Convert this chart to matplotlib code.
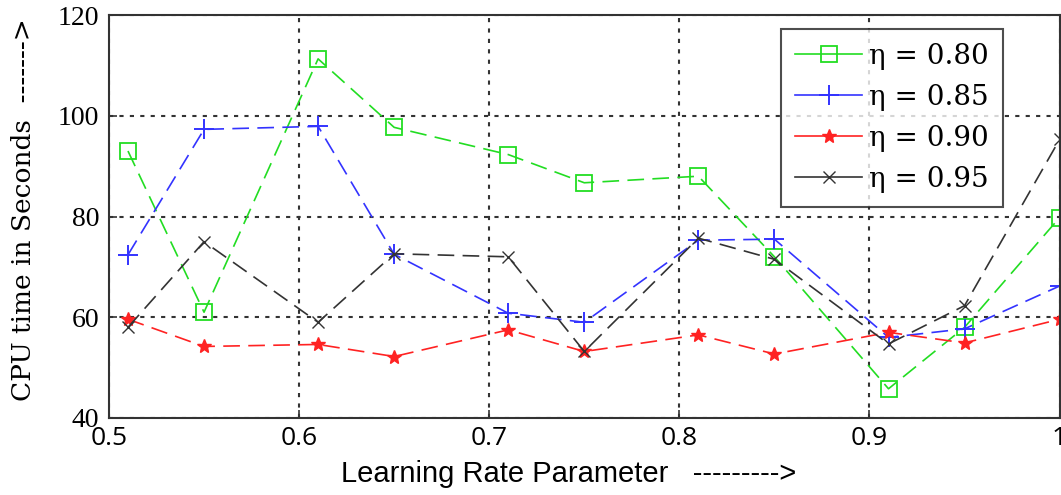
import matplotlib
matplotlib.use('Agg')
import matplotlib.pyplot as plt
from matplotlib.lines import Line2D

# learning rate parameter (x) and CPU time per eta setting
learning_rate = [0.51, 0.55, 0.61, 0.65, 0.71, 0.75, 0.81, 0.85, 0.91, 0.95, 1.0]
cpu_eta_080 = [93.0, 61.0, 111.3, 97.7, 92.3, 86.7, 88.0, 72.0, 45.8, 58.0, 79.8]
cpu_eta_085 = [72.4, 97.3, 97.9, 72.5, 60.8, 59.0, 75.3, 75.5, 56.0, 57.7, 66.2]
cpu_eta_090 = [59.6, 54.2, 54.6, 52.2, 57.5, 53.2, 56.5, 52.7, 57.0, 54.9, 59.6]
cpu_eta_095 = [58.0, 75.0, 59.0, 72.6, 72.0, 53.2, 75.7, 71.5, 54.7, 62.3, 95.3]
series_labels = ['η = 0.80', 'η = 0.85', 'η = 0.90', 'η = 0.95']
x_ticks = [0.5, 0.6, 0.7, 0.8, 0.9, 1.0]
x_ticklabels = ['0.5', '0.6', '0.7', '0.8', '0.9', '1']
y_ticks = [40, 60, 80, 100, 120]

SERIF = ['Liberation Serif', 'DejaVu Serif']
WIDE_SERIF = ['DejaVu Serif']
SANS = ['Open Sans', 'Liberation Sans', 'DejaVu Sans']
ARIAL = ['Liberation Sans', 'DejaVu Sans']

styles = [
    dict(color='#22dd22', marker='s', markersize=11, markerfacecolor='none', markeredgewidth=1.3),
    dict(color='#3333ff', marker='+', markersize=15, markeredgewidth=1.4),
    dict(color='#ff2222', marker='*', markersize=10, markeredgewidth=1.0),
    dict(color='#333333', marker='x', markersize=8, markeredgewidth=1.0),
]
all_series = [cpu_eta_080, cpu_eta_085, cpu_eta_090, cpu_eta_095]

fig = plt.figure(figsize=(10.61, 4.95), dpi=100)
ax = fig.add_axes([0.1027, 0.1556, 0.896, 0.814])

for values, st in zip(all_series, styles):
    ax.plot(learning_rate, values, linestyle=(0, (10, 5)), linewidth=1.2, **st)

ax.set_xlim(0.5, 1.0)
ax.set_ylim(40, 120)
ax.set_xticks(x_ticks)
ax.set_xticklabels(x_ticklabels, family=SANS, fontsize=19)
ax.set_yticks(y_ticks)
ax.set_yticklabels([str(v) for v in y_ticks], family=SERIF, fontsize=20)
ax.tick_params(direction='in', length=6, width=1.2, color='#333333')
ax.tick_params(axis='x', pad=6)
ax.tick_params(axis='y', pad=7)
ax.grid(True, color='#333333', linestyle=(0, (2, 3)), linewidth=1.5)
for sp in ax.spines.values():
    sp.set_color('#333333')
    sp.set_linewidth(1.5)

ax.set_xlabel('Learning Rate Parameter   --------->', family=ARIAL, fontsize=21)
ax.xaxis.set_label_coords(0.484, -0.105)
ax.set_ylabel('CPU time in Seconds  ------->', family=WIDE_SERIF, fontsize=19)
ax.yaxis.set_label_coords(-0.077, 0.516)

handles = [Line2D([0], [0], linestyle='-', linewidth=1.2, **st) for st in styles]
leg = ax.legend(handles, series_labels, loc='upper right', bbox_to_anchor=(0.940, 0.965),
                borderaxespad=0, prop={'family': WIDE_SERIF, 'size': 20}, frameon=True,
                fancybox=False, handlelength=2.4, handletextpad=0.25, borderpad=0.5,
                labelspacing=0.5)
leg.get_frame().set_edgecolor('#222222')
leg.get_frame().set_linewidth(1.5)

fig.savefig('out.png', dpi=100)
